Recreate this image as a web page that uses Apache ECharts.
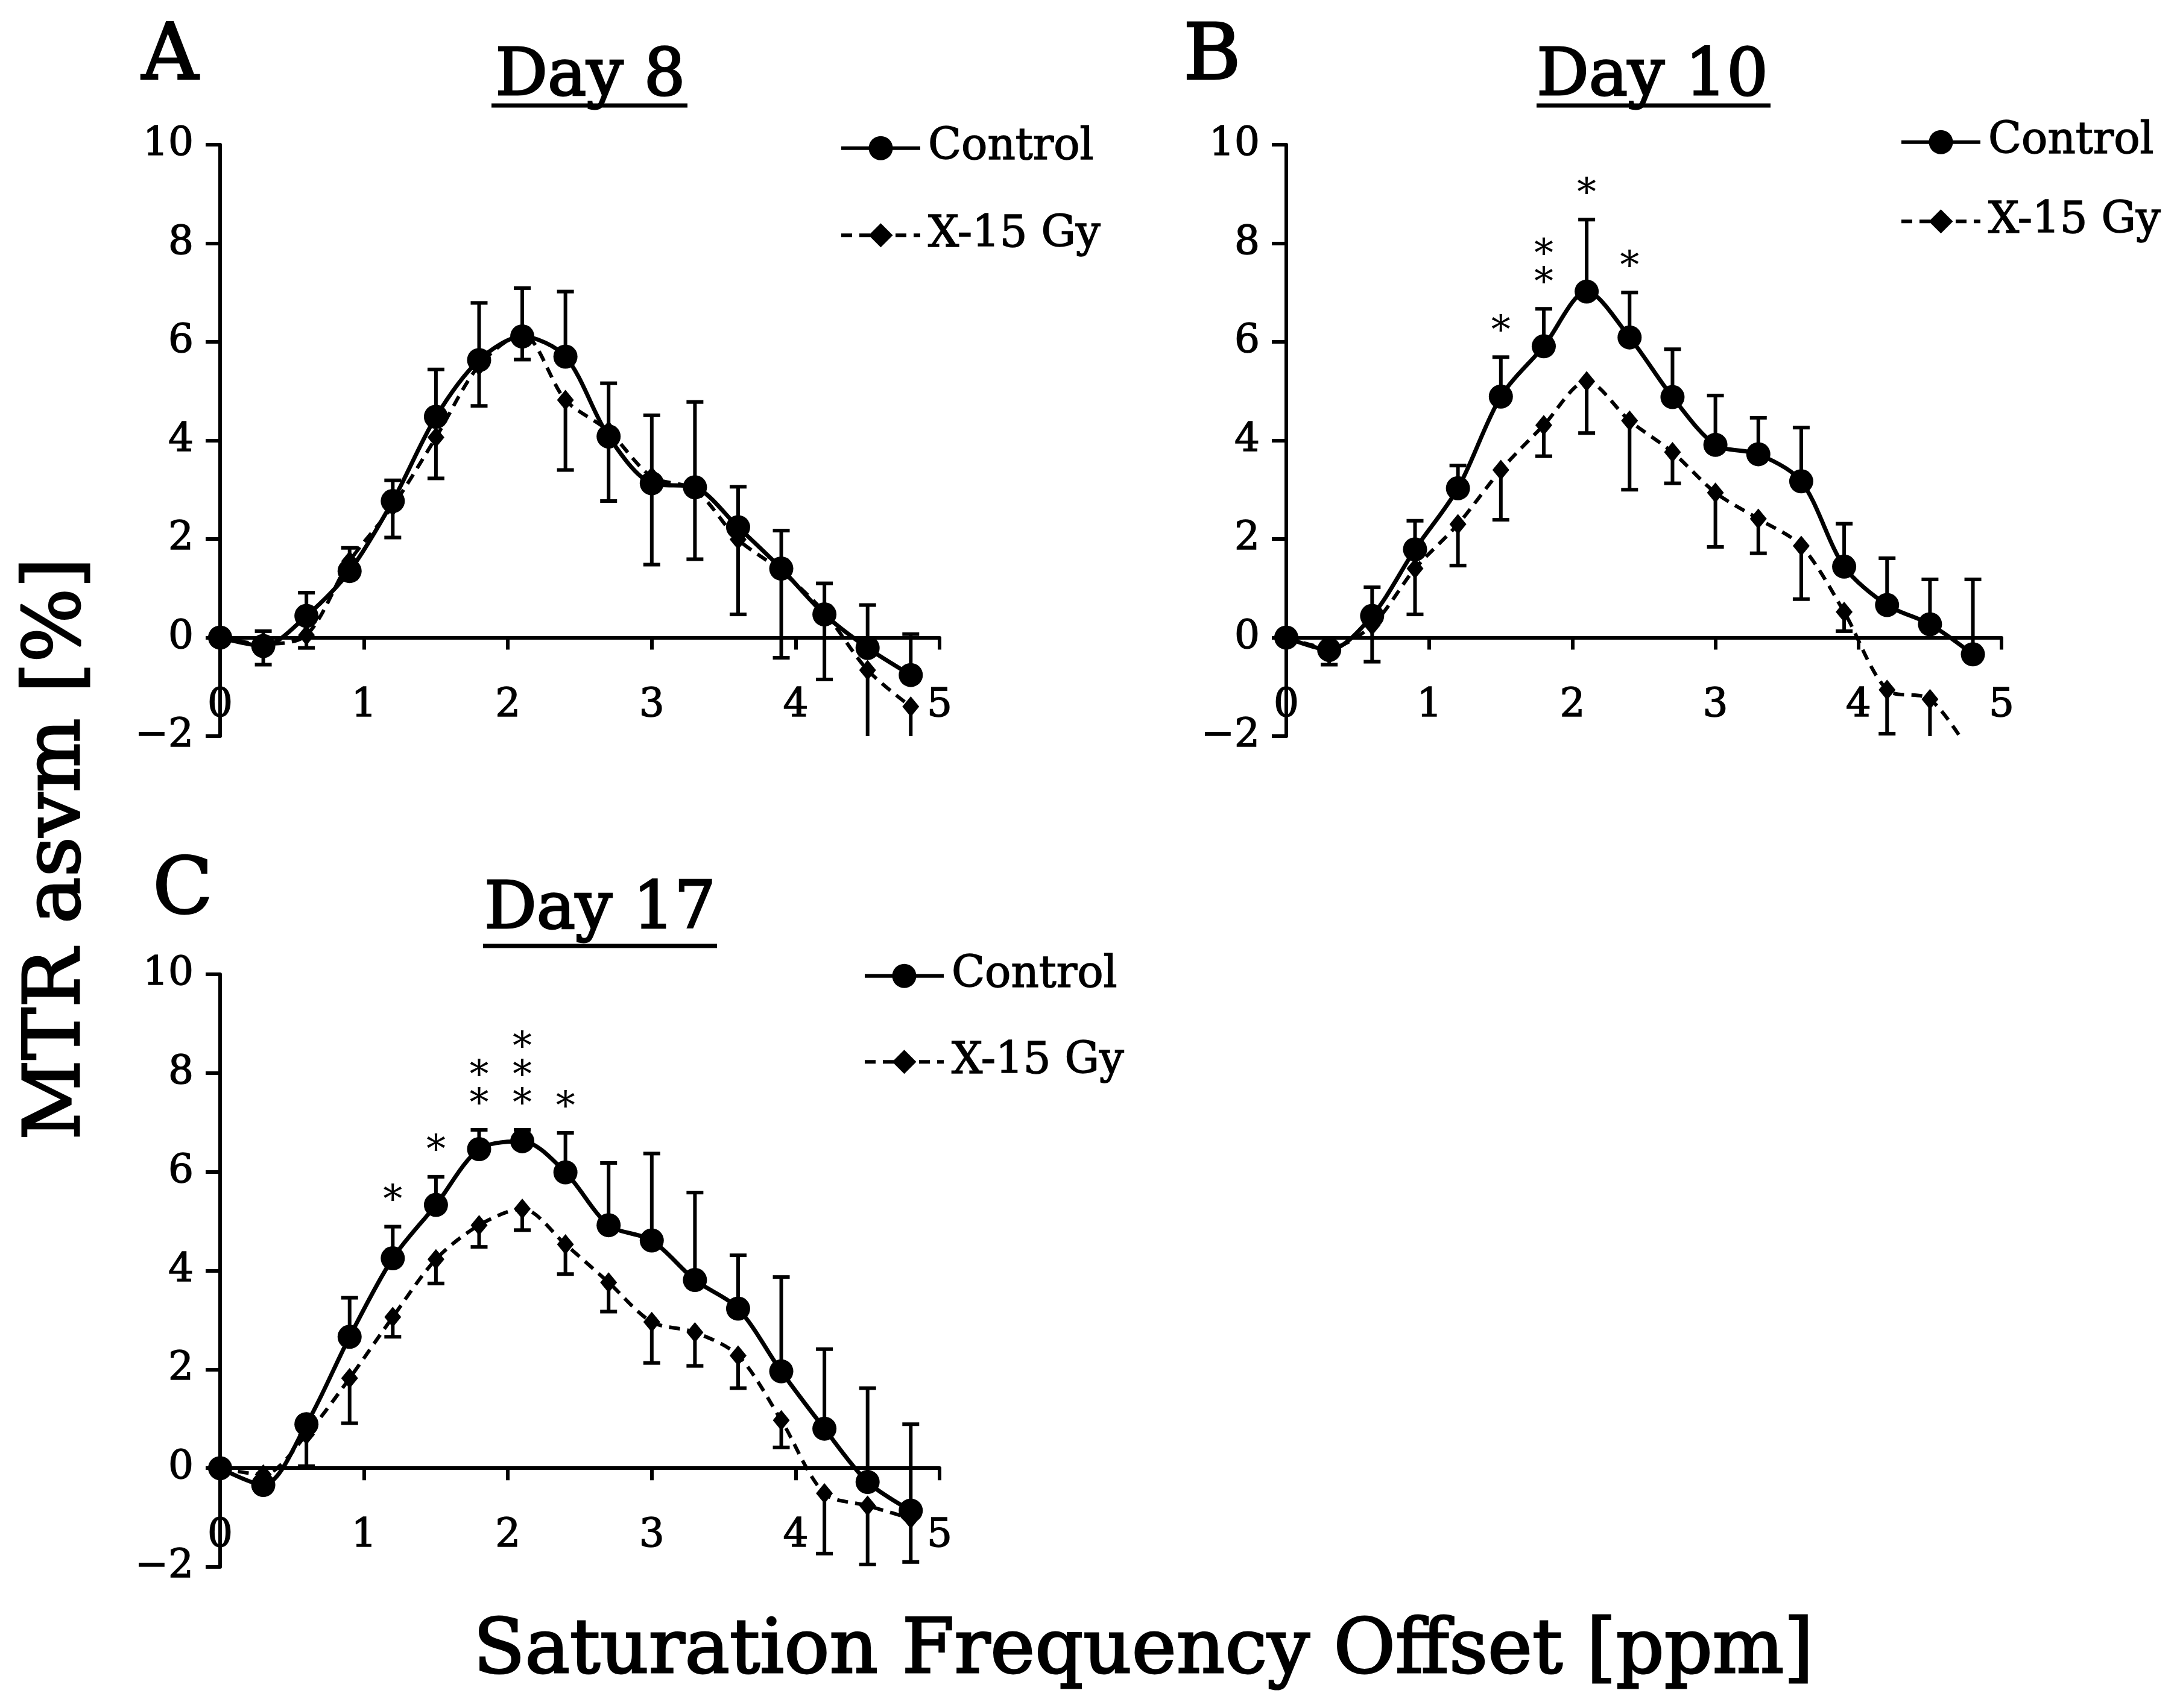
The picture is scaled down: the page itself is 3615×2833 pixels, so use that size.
<!DOCTYPE html>
<html>
<head>
<meta charset="utf-8">
<script src="https://cdn.jsdelivr.net/npm/echarts@6/dist/echarts.min.js"></script>
<style>
html, body { margin: 0; padding: 0; background: #fff; }
#main { width: 3615px; height: 2833px; }
</style>
</head>
<body>
<div id="main"></div>
<script>
// 横轴：饱和频率偏移 (ppm)
var offsets = [0, 0.3, 0.6, 0.9, 1.2, 1.5, 1.8, 2.1, 2.4, 2.7, 3.0, 3.3, 3.6, 3.9, 4.2, 4.5, 4.8];

// Day 8
var ctrlA   = [0, -0.17, 0.44, 1.35, 2.77, 4.48, 5.63, 6.11, 5.70, 4.08, 3.13, 3.05, 2.24, 1.40, 0.47, -0.21, -0.76];
var ctrlSdA = [0, 0.30, 0.47, 0.47, 0.42, 0.96, 1.16, 0.98, 1.32, 1.08, 1.38, 1.73, 0.82, 0.77, 0.63, 0.87, 0.83];
var xrayA   = [0, -0.13, 0.05, 1.55, 2.67, 4.06, 5.52, 6.15, 4.82, 4.19, 3.26, 3.00, 1.99, 1.35, 0.51, -0.66, -1.40];
var xraySdA = [0, 0.42, 0.26, 0.35, 0.64, 0.83, 0.82, 0.51, 1.42, 1.42, 1.78, 1.41, 1.52, 1.76, 1.36, 1.74, 1.00];
var starsA  = [0, 0, 0, 0, 0, 0, 0, 0, 0, 0, 0, 0, 0, 0, 0, 0, 0];

// Day 10
var ctrlB   = [0, -0.25, 0.44, 1.79, 3.03, 4.89, 5.91, 7.02, 6.09, 4.88, 3.91, 3.72, 3.17, 1.44, 0.66, 0.27, -0.34];
var ctrlSdB = [0, 0.15, 0.58, 0.58, 0.46, 0.80, 0.76, 1.46, 0.91, 0.97, 1.00, 0.74, 1.09, 0.87, 0.95, 0.91, 1.52];
var xrayB   = [0, -0.21, 0.25, 1.40, 2.30, 3.40, 4.31, 5.20, 4.40, 3.76, 2.94, 2.41, 1.86, 0.52, -1.06, -1.25, -2.42];
var xraySdB = [0, 0.34, 0.74, 0.93, 0.84, 1.01, 0.63, 1.05, 1.40, 0.63, 1.10, 0.70, 1.08, 0.39, 0.89, 0.85, 0];
var starsB  = [0, 0, 0, 0, 0, 1, 2, 1, 1, 0, 0, 0, 0, 0, 0, 0, 0];

// Day 17
var ctrlC   = [0, -0.34, 0.89, 2.66, 4.25, 5.33, 6.46, 6.62, 5.99, 4.92, 4.61, 3.81, 3.23, 1.96, 0.80, -0.28, -0.86];
var ctrlSdC = [0, 0.10, 0.15, 0.79, 0.64, 0.57, 0.39, 0.23, 0.80, 1.26, 1.76, 1.77, 1.08, 1.91, 1.61, 1.90, 1.75];
var xrayC   = [0, -0.13, 0.68, 1.82, 3.06, 4.23, 4.92, 5.25, 4.53, 3.76, 2.96, 2.75, 2.28, 0.97, -0.51, -0.76, -1.02];
var xraySdC = [0, 0.10, 0.64, 0.91, 0.40, 0.49, 0.44, 0.43, 0.60, 0.59, 0.83, 0.68, 0.66, 0.55, 1.22, 1.19, 0.88];
var starsC  = [0, 0, 0, 0, 1, 1, 2, 3, 1, 0, 0, 0, 0, 0, 0, 0, 0];

var FONT = 'DejaVu Serif';

var panels = [
  { letter: 'A', title: 'Day 8',  ctrl: ctrlA, ctrlSd: ctrlSdA, xray: xrayA, xraySd: xraySdA, stars: starsA,
    grid: { left: 365, top: 240, width: 1193, height: 981 },
    legend: { left: 1392, top: 209, itemGap: 71 } },
  { letter: 'B', title: 'Day 10', ctrl: ctrlB, ctrlSd: ctrlSdB, xray: xrayB, xraySd: xraySdB, stars: starsB,
    grid: { left: 2133, top: 240, width: 1186, height: 981 },
    legend: { left: 3150, top: 199, itemGap: 58 } },
  { letter: 'C', title: 'Day 17', ctrl: ctrlC, ctrlSd: ctrlSdC, xray: xrayC, xraySd: xraySdC, stars: starsC,
    grid: { left: 365, top: 1616, width: 1193, height: 983 },
    legend: { left: 1431, top: 1582, itemGap: 69 } }
];

function pairs(ys) {
  return offsets.map(function (x, i) { return [x, ys[i]]; });
}

function errData(ys, sd) {
  return offsets.map(function (x, i) { return [x, ys[i], sd[i]]; });
}

// 误差线：dir = 1 向上，-1 向下
function errRender(dir) {
  return function (params, api) {
    var sd = api.value(2);
    if (!sd) return null;
    var x = api.value(0), y = api.value(1);
    var cs = params.coordSys;
    var p0 = api.coord([x, y]);
    var p1 = api.coord([x, y + dir * sd]);
    var yMin = cs.y, yMax = cs.y + cs.height;
    var clipped = false;
    if (p1[1] > yMax) { p1[1] = yMax; clipped = true; }
    if (p1[1] < yMin) { p1[1] = yMin; clipped = true; }
    var st = { stroke: '#000', lineWidth: 6 };
    var children = [{ type: 'line', shape: { x1: p0[0], y1: p0[1], x2: p1[0], y2: p1[1] }, style: st }];
    if (!clipped) {
      children.push({ type: 'line', shape: { x1: p1[0] - 14, y1: p1[1], x2: p1[0] + 14, y2: p1[1] }, style: st });
    }
    return { type: 'group', children: children };
  };
}

// 显著性星号
function starRender(params, api) {
  var n = api.value(2);
  if (!n) return null;
  var p = api.coord([api.value(0), api.value(1)]);
  var children = [];
  for (var k = 0; k < n; k++) {
    children.push({
      type: 'text',
      x: p[0],
      y: p[1] - 40 - k * 47,
      style: { text: '*', fontFamily: FONT, fontSize: 64, fill: '#000', align: 'center', verticalAlign: 'middle' }
    });
  }
  return { type: 'group', children: children };
}

var grids = [], xAxes = [], yAxes = [], legends = [], series = [], graphics = [];

panels.forEach(function (p, i) {
  grids.push({ left: p.grid.left, top: p.grid.top, width: p.grid.width, height: p.grid.height, containLabel: false, outerBoundsMode: 'none' });

  // 横轴整体移到 y = 0 处
  xAxes.push({
    gridIndex: i, type: 'value', min: 0, max: 5, interval: 1,
    offset: -p.grid.height * 2 / 12,
    axisLine: { show: true, onZero: false, lineStyle: { color: '#000', width: 6 } },
    axisTick: { show: true, length: 20, lineStyle: { color: '#000', width: 6 } },
    axisLabel: { show: true, fontFamily: FONT, fontSize: 66, color: '#000', margin: 80,
      textBorderColor: '#000', textBorderWidth: 1.5 },
    splitLine: { show: false }
  });

  yAxes.push({
    gridIndex: i, type: 'value', min: -2, max: 10, interval: 2,
    axisLine: { show: true, onZero: false, lineStyle: { color: '#000', width: 6 } },
    axisTick: { show: true, length: 24, lineStyle: { color: '#000', width: 6 } },
    axisLabel: {
      show: true, fontFamily: FONT, fontSize: 66, color: '#000', margin: 44,
      textBorderColor: '#000', textBorderWidth: 1.5,
      formatter: function (v) { return v < 0 ? '\u2212' + (-v) : String(v); }
    },
    splitLine: { show: false }
  });

  legends.push({
    left: p.legend.left, top: p.legend.top, orient: 'vertical', padding: 0,
    itemWidth: 131, itemHeight: 50, itemGap: p.legend.itemGap,
    selectedMode: false,
    data: ['Control', 'X-15 Gy'],
    lineStyle: { width: 6 },
    textStyle: { fontFamily: FONT, fontSize: 72, color: '#000', padding: [0, 0, 0, 8],
      textBorderColor: '#000', textBorderWidth: 1.5 }
  });

  series.push({
    type: 'custom', name: 'ctrlErr' + i, xAxisIndex: i, yAxisIndex: i, z: 1,
    renderItem: errRender(1), data: errData(p.ctrl, p.ctrlSd), silent: true
  });
  series.push({
    type: 'custom', name: 'xrayErr' + i, xAxisIndex: i, yAxisIndex: i, z: 1,
    renderItem: errRender(-1), data: errData(p.xray, p.xraySd), silent: true
  });
  series.push({
    type: 'line', name: 'X-15 Gy', xAxisIndex: i, yAxisIndex: i, z: 3,
    data: pairs(p.xray), smooth: 0.3, clip: true,
    symbol: 'diamond', symbolSize: [28, 34],
    itemStyle: { color: '#000' },
    lineStyle: { color: '#000', width: 6, type: [18, 12] }
  });
  series.push({
    type: 'line', name: 'Control', xAxisIndex: i, yAxisIndex: i, z: 4,
    data: pairs(p.ctrl), smooth: 0.3, clip: true,
    symbol: 'circle', symbolSize: 40,
    itemStyle: { color: '#000' },
    lineStyle: { color: '#000', width: 7 }
  });
  series.push({
    type: 'custom', name: 'stars' + i, xAxisIndex: i, yAxisIndex: i, z: 5,
    renderItem: starRender, silent: true,
    data: offsets.map(function (x, k) { return [x, p.ctrl[k] + p.ctrlSd[k], p.stars[k]]; })
  });
});

// 面板字母、标题及下划线
var letterPos = [[282, 97], [2010, 97], [303, 1480]];
var titlePos = [[979, 129], [2740, 129], [995, 1511]];
var underline = [[815, 1140, 175], [2548, 2936, 175], [801, 1189, 1569]];

function textStyle(text, size) {
  return { text: text, fontFamily: FONT, fontSize: size, fill: '#000', stroke: '#000', lineWidth: 3,
    align: 'center', verticalAlign: 'middle' };
}

panels.forEach(function (p, i) {
  graphics.push({ type: 'text', x: letterPos[i][0], y: letterPos[i][1], style: textStyle(p.letter, 130) });
  graphics.push({ type: 'text', x: titlePos[i][0], y: titlePos[i][1], style: textStyle(p.title, 108) });
  graphics.push({
    type: 'line', shape: { x1: underline[i][0], y1: underline[i][2], x2: underline[i][1], y2: underline[i][2] },
    style: { stroke: '#000', lineWidth: 7 }
  });
});

graphics.push({ type: 'text', x: 97, y: 1408, rotation: Math.PI / 2, style: textStyle('MTR asvm [%]', 130) });
graphics.push({ type: 'text', x: 1896, y: 2742, style: textStyle('Saturation Frequency Offset [ppm]', 125) });

var myChart = echarts.init(document.getElementById('main'));
myChart.setOption({
  animation: false,
  backgroundColor: '#fff',
  grid: grids,
  xAxis: xAxes,
  yAxis: yAxes,
  legend: legends,
  series: series,
  graphic: graphics
});
</script>
</body>
</html>
